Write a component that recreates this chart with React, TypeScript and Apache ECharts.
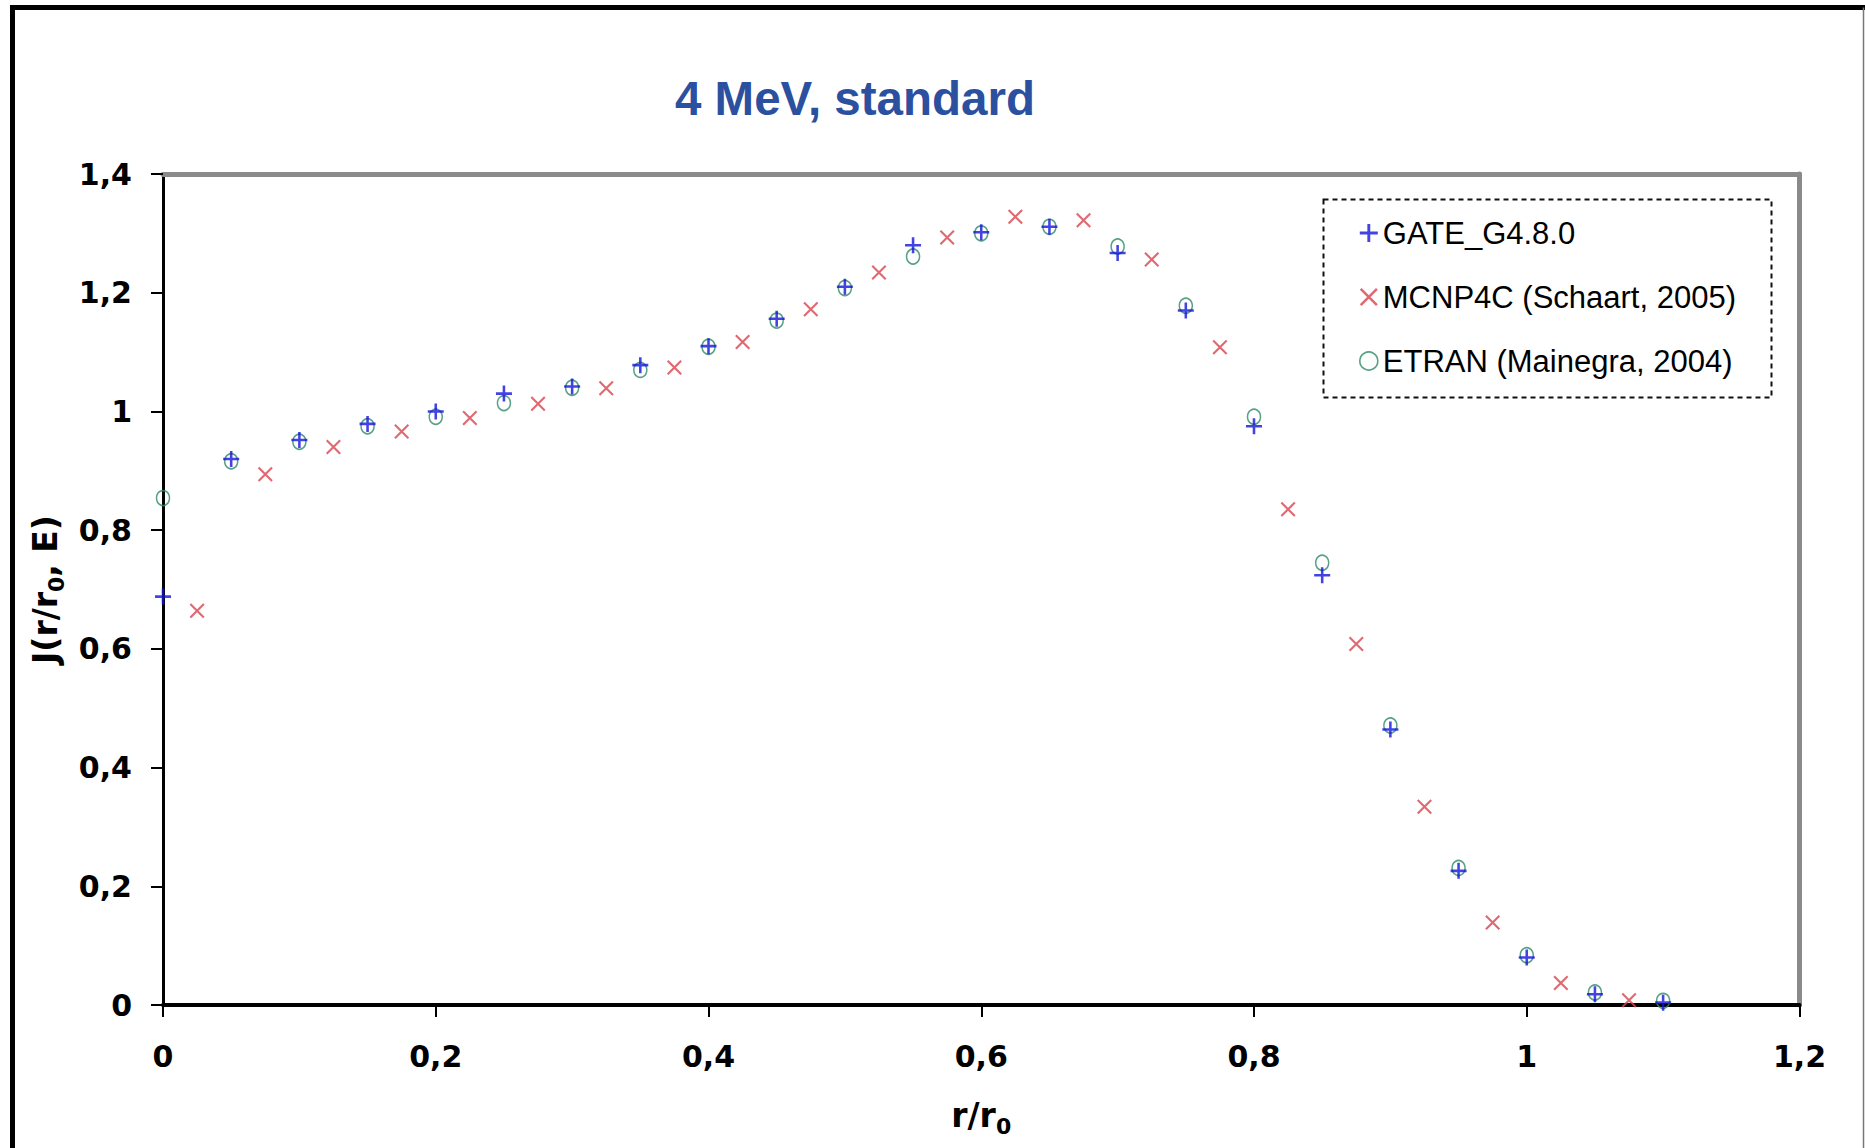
import React, { useEffect, useRef } from 'react';
import * as echarts from 'echarts';

const gateX = [0, 0.05, 0.1, 0.15, 0.2, 0.25, 0.3, 0.35, 0.4, 0.45, 0.5, 0.55, 0.6, 0.65, 0.7, 0.75, 0.8, 0.85, 0.9, 0.95, 1.0, 1.05, 1.1];
const gateY = [0.688, 0.92, 0.952, 0.979, 1.0, 1.03, 1.042, 1.078, 1.11, 1.156, 1.21, 1.28, 1.302, 1.311, 1.267, 1.17, 0.975, 0.724, 0.464, 0.226, 0.08, 0.018, 0.004];

const etranX = [0, 0.05, 0.1, 0.15, 0.2, 0.25, 0.3, 0.35, 0.4, 0.45, 0.5, 0.55, 0.6, 0.65, 0.7, 0.75, 0.8, 0.85, 0.9, 0.95, 1.0, 1.05, 1.1];
const etranY = [0.854, 0.916, 0.949, 0.975, 0.991, 1.014, 1.04, 1.07, 1.109, 1.153, 1.208, 1.261, 1.3, 1.311, 1.278, 1.178, 0.991, 0.745, 0.471, 0.231, 0.084, 0.021, 0.007];

const mcnpX = [0.025, 0.075, 0.125, 0.175, 0.225, 0.275, 0.325, 0.375, 0.425, 0.475, 0.525, 0.575, 0.625, 0.675, 0.725, 0.775, 0.825, 0.875, 0.925, 0.975, 1.025, 1.075];
const mcnpY = [0.664, 0.894, 0.94, 0.966, 0.989, 1.013, 1.039, 1.074, 1.117, 1.172, 1.234, 1.293, 1.328, 1.322, 1.256, 1.108, 0.835, 0.608, 0.334, 0.139, 0.037, 0.008];

const xTickLabels = ['0', '0,2', '0,4', '0,6', '0,8', '1', '1,2'];
const yTickLabels = ['0', '0,2', '0,4', '0,6', '0,8', '1', '1,2', '1,4'];

const seriesNames = ['GATE_G4.8.0', 'MCNP4C (Schaart, 2005)', 'ETRAN (Mainegra, 2004)'];
const titleText = '4 MeV, standard';

const BLUE = '#1414DC';
const RED = '#D8434E';
const GREEN = '#2E8A66';

const PLUS = 'path://M42,0L58,0L58,42L100,42L100,58L58,58L58,100L42,100L42,58L0,58L0,42L42,42Z';
const CROSS = 'path://M0,10L10,0L100,90L90,100Z M90,0L100,10L10,100L0,90Z';

const zip = (xs: number[], ys: number[]) => xs.map((x, i) => [x, ys[i]]);

const tickFont = {
  fontFamily: 'DejaVu Sans',
  fontWeight: 'bold' as const,
  fontSize: 30,
  color: '#000',
};

const nameRich = {
  a: { fontFamily: 'DejaVu Sans', fontWeight: 'bold' as const, fontSize: 33, color: '#000', lineHeight: 44, verticalAlign: 'middle' as const },
  s: { fontFamily: 'DejaVu Sans', fontWeight: 'bold' as const, fontSize: 22, color: '#000', lineHeight: 22, verticalAlign: 'bottom' as const },
};

export default function App() {
  const ref = useRef<HTMLDivElement>(null);
  useEffect(() => {
    if (!ref.current) return;
    const chart = echarts.init(ref.current, null, { renderer: 'svg' });
    chart.setOption({
      animation: false,
      backgroundColor: '#fff',
      title: {
        text: titleText,
        left: 670,
        top: 69,
        textStyle: { fontFamily: 'Liberation Sans', fontWeight: 'bold', fontSize: 47.5, color: '#2B50A0' },
      },
      grid: { left: 163, right: 65.5, top: 174, bottom: 143 },
      legend: {
        orient: 'vertical',
        left: 1359,
        top: 216,
        itemWidth: 18,
        itemHeight: 18,
        itemGap: 30,
        padding: 0,
        selectedMode: false,
        textStyle: { fontFamily: 'Liberation Sans', fontSize: 31, color: '#000', lineHeight: 34 },
        data: [
          { name: seriesNames[0], icon: PLUS, itemStyle: { color: BLUE } },
          { name: seriesNames[1], icon: CROSS, itemStyle: { color: RED } },
          { name: seriesNames[2], icon: 'circle', itemStyle: { color: 'rgba(0,0,0,0)', borderColor: GREEN, borderWidth: 1.6 } },
        ],
      },
      xAxis: [
        {
          type: 'value',
          min: 0,
          max: 1.2,
          interval: 0.2,
          position: 'bottom',
          axisLine: { show: true, onZero: false, lineStyle: { color: '#000', width: 4 } },
          axisTick: { show: true, length: 12, lineStyle: { color: '#000', width: 2 } },
          axisLabel: { ...tickFont, margin: 36, formatter: (_v: number, i: number) => xTickLabels[i] },
          splitLine: { show: false },
          name: '{a|r/r}{s|0}',
          nameLocation: 'middle',
          nameGap: 88,
          nameTextStyle: { rich: nameRich },
        },
        {
          type: 'value',
          min: 0,
          max: 1.2,
          interval: 0.2,
          position: 'top',
          axisLine: { show: true, onZero: false, lineStyle: { color: '#8A8A8A', width: 5 } },
          axisTick: { show: false },
          axisLabel: { show: false },
          splitLine: { show: false },
        },
      ],
      yAxis: [
        {
          type: 'value',
          min: 0,
          max: 1.4,
          interval: 0.2,
          position: 'left',
          axisLine: { show: true, onZero: false, lineStyle: { color: '#000', width: 3 } },
          axisTick: { show: true, length: 12, lineStyle: { color: '#000', width: 2 } },
          axisLabel: { ...tickFont, margin: 31, formatter: (_v: number, i: number) => yTickLabels[i] },
          splitLine: { show: false },
          name: '{a|J(r/r}{s|0}{a|, E)}',
          nameLocation: 'middle',
          nameGap: 90,
          nameTextStyle: { rich: nameRich },
        },
        {
          type: 'value',
          min: 0,
          max: 1.4,
          interval: 0.2,
          position: 'right',
          axisLine: { show: true, onZero: false, lineStyle: { color: '#8A8A8A', width: 5 } },
          axisTick: { show: false },
          axisLabel: { show: false },
          splitLine: { show: false },
        },
      ],
      graphic: [
        { type: 'line', shape: { x1: 12.5, y1: 5, x2: 12.5, y2: 1148 }, style: { stroke: '#000', lineWidth: 5 } },
        { type: 'line', shape: { x1: 10, y1: 7.5, x2: 1865, y2: 7.5 }, style: { stroke: '#000', lineWidth: 5 } },
        { type: 'line', shape: { x1: 1863.5, y1: 7.5, x2: 1863.5, y2: 1148 }, style: { stroke: '#777', lineWidth: 1.5 } },
        {
          type: 'rect',
          shape: { x: 1323.5, y: 199.5, width: 448, height: 198 },
          style: { fill: 'none', stroke: '#111', lineWidth: 2, lineDash: [5, 4] },
          z: 10,
        },
      ],
      series: [
        {
          name: seriesNames[2],
          type: 'scatter',
          data: zip(etranX, etranY),
          symbol: 'circle',
          symbolSize: [13, 15],
          itemStyle: { color: 'rgba(0,0,0,0)', borderColor: GREEN, borderWidth: 1.6 },
          emphasis: { disabled: true },
          z: 2,
        },
        {
          name: seriesNames[1],
          type: 'scatter',
          data: zip(mcnpX, mcnpY),
          symbol: CROSS,
          symbolSize: 15,
          itemStyle: { color: RED },
          emphasis: { disabled: true },
          z: 3,
        },
        {
          name: seriesNames[0],
          type: 'scatter',
          data: zip(gateX, gateY),
          symbol: PLUS,
          symbolSize: 16,
          itemStyle: { color: BLUE },
          emphasis: { disabled: true },
          z: 4,
        },
      ],
    });
    return () => chart.dispose();
  }, []);
  return (
    <div
      ref={ref}
      style={{ position: 'fixed', left: 0, top: 0, width: 1865, height: 1148, background: '#fff' }}
    />
  );
}
